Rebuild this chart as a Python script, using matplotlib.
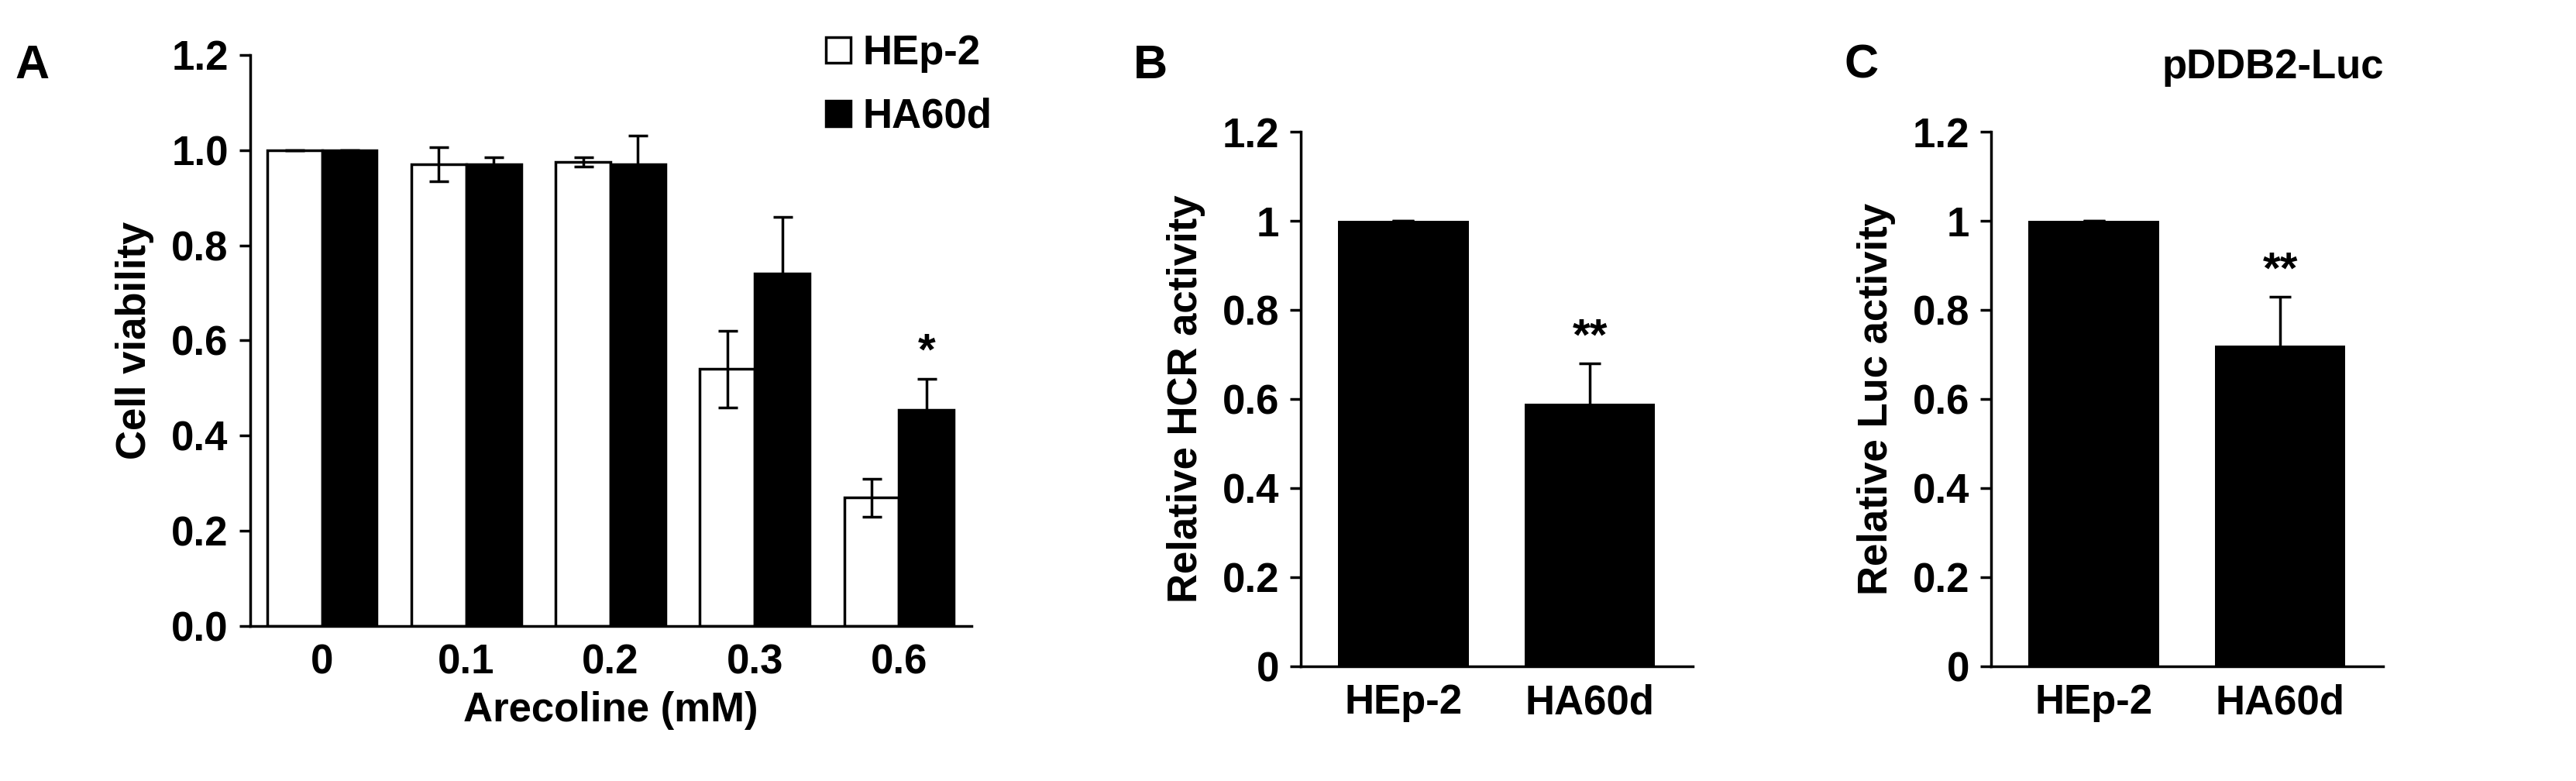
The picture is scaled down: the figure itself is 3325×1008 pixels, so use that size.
import matplotlib
matplotlib.use("Agg")
import matplotlib.pyplot as plt
import numpy as np

plt.rcParams['font.family'] = ['Liberation Sans', 'DejaVu Sans']
plt.rcParams['font.weight'] = 'bold'

conc = ['0', '0.1', '0.2', '0.3', '0.6']
hep2 = [1.0, 0.97, 0.975, 0.54, 0.27]
hep2_err = [0.0, 0.035, 0.01, 0.08, 0.04]
ha60 = [1.0, 0.97, 0.97, 0.74, 0.455]
ha60_err = [0.0, 0.015, 0.06, 0.12, 0.065]
cells = ['HEp-2', 'HA60d']
hcr = [1.0, 0.59]
hcr_err = [0.0, 0.09]
luc = [1.0, 0.72]
luc_err = [0.0, 0.11]

fs = 38
fig = plt.figure(figsize=(33.25, 10.08), dpi=100)

def style(ax):
    for s in ['top', 'right']:
        ax.spines[s].set_visible(False)
    for s in ['left', 'bottom']:
        ax.spines[s].set_linewidth(2.5)
    ax.tick_params(axis='y', labelsize=fs, width=2.5, length=10, pad=10)
    ax.tick_params(axis='x', labelsize=fs, length=0, pad=16)
    ax.set_ylim(0, 1.2)

axA = fig.add_axes([0.097, 0.198, 0.28, 0.732])
x = np.arange(len(conc))
w = 0.38
axA.bar(x - w/2, hep2, w, color='white', edgecolor='black', linewidth=2.5,
        yerr=hep2_err, capsize=9, error_kw=dict(elinewidth=2.5, capthick=2.5), label='HEp-2')
axA.bar(x + w/2, ha60, w, color='black', edgecolor='black', linewidth=2.5,
        yerr=ha60_err, capsize=9, error_kw=dict(elinewidth=2.5, capthick=2.5), label='HA60d')
style(axA)
axA.set_xlim(-0.5, 4.5)
axA.set_xticks(x)
axA.set_xticklabels(conc)
axA.set_yticks(np.arange(0, 1.21, 0.2))
axA.set_yticklabels([f'{v:.1f}' for v in np.arange(0, 1.21, 0.2)])
axA.set_ylabel('Cell viability', fontsize=fs, fontweight='bold', labelpad=16)
axA.set_xlabel('Arecoline (mM)', fontsize=fs, fontweight='bold', labelpad=8)
axA.text(x[4] + w/2, ha60[4] + ha60_err[4] + 0.03, '*', ha='center', fontsize=fs + 4, fontweight='bold')
axA.legend(loc='upper right', bbox_to_anchor=(1.08, 1.1), frameon=False, fontsize=fs,
           handlelength=0.6, handleheight=0.6, labelspacing=0.6, handletextpad=0.3)

def panel(left, vals, errs, ylabel, title=None):
    ax = fig.add_axes([left, 0.147, 0.152, 0.684])
    xx = np.arange(2)
    ax.bar(xx, vals, 0.7, color='black', yerr=errs, capsize=10,
           error_kw=dict(elinewidth=2.5, capthick=2.5))
    style(ax)
    ax.set_xlim(-0.55, 1.55)
    ax.set_xticks(xx)
    ax.set_xticklabels(cells)
    ax.set_yticks(np.arange(0, 1.21, 0.2))
    ax.set_yticklabels(['0', '0.2', '0.4', '0.6', '0.8', '1', '1.2'])
    ax.set_ylabel(ylabel, fontsize=fs, fontweight='bold', labelpad=16)
    ax.text(1, vals[1] + errs[1] + 0.03, '**', ha='center', fontsize=fs + 4, fontweight='bold')
    if title:
        ax.text(0.72, 1.1, title, transform=ax.transAxes, ha='center', fontsize=fs, fontweight='bold')
    return ax

panel(0.505, hcr, hcr_err, 'Relative HCR activity')
panel(0.773, luc, luc_err, 'Relative Luc activity', 'pDDB2-Luc')

fig.text(0.006, 0.90, 'A', fontsize=44, fontweight='bold')
fig.text(0.440, 0.90, 'B', fontsize=44, fontweight='bold')
fig.text(0.716, 0.90, 'C', fontsize=44, fontweight='bold')

fig.savefig('out.png', dpi=100)
